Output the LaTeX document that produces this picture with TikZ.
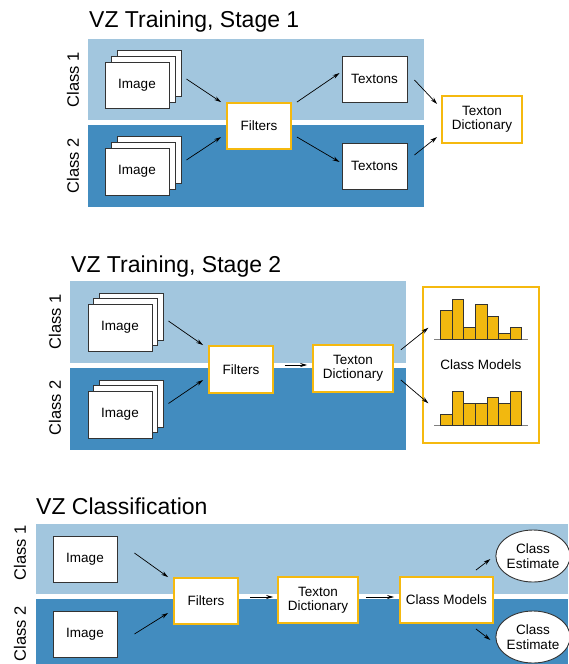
\documentclass[tikz,border=0pt]{standalone}
\usepackage{fontspec}
\setmainfont{Liberation Sans}
\usetikzlibrary{shapes.geometric,arrows.meta}
\definecolor{bandlight}{HTML}{A2C6DE}
\definecolor{banddark}{HTML}{428CBF}
\definecolor{gold}{HTML}{F5B90F}
\definecolor{barfill}{HTML}{F2B80F}
\definecolor{edge}{HTML}{333333}
\begin{document}
\begin{tikzpicture}[x=1pt,y=-1pt,
  boxfont/.style={font=\fontsize{13.5}{14.5}\selectfont},
  sheet/.style={draw=edge,fill=white,line width=0.9pt,inner sep=0pt,boxfont,align=center},
  proc/.style={draw=gold,fill=white,line width=1.8pt,inner sep=0pt,boxfont,align=center},
  est/.style={ellipse,draw=edge,fill=white,line width=0.9pt,inner sep=0pt,minimum width=70pt,minimum height=52pt,boxfont,align=center},
  title/.style={anchor=base west,inner sep=0pt,font=\fontsize{23}{26}\selectfont},
  classlabel/.style={rotate=90,inner sep=0pt,font=\fontsize{16.5}{18}\selectfont},
  arr/.style={-{Stealth[length=7pt,width=4pt]},line width=0.7pt},
  bar/.style={draw=edge,fill=barfill,line width=0.8pt},
  axisline/.style={draw=gray,line width=0.9pt}]
\useasboundingbox (0,0) rectangle (568,664);

% ---------------- Section 1 ----------------
\node[title] (t1) at (89,27.5) {VZ Training, Stage 1};
\fill[bandlight] (88,39) rectangle (424,120);
\fill[banddark] (88,125) rectangle (424,207);
\node[classlabel] (c11) at (73,80) {Class 1};
\node[classlabel] (c12) at (73,166) {Class 2};

\node[sheet,minimum width=64pt,minimum height=46pt] (s1c) at (149,73) {};
\node[sheet,minimum width=64pt,minimum height=46pt] (s1b) at (143,79) {};
\node[sheet,minimum width=64pt,minimum height=46pt] (s1a) at (137,85) {Image};
\node[sheet,minimum width=64pt,minimum height=47pt] (s2c) at (149,159.5) {};
\node[sheet,minimum width=64pt,minimum height=47pt] (s2b) at (143,165.5) {};
\node[sheet,minimum width=64pt,minimum height=47pt] (s2a) at (137,171.5) {Image};

\node[proc,minimum width=64pt,minimum height=46pt] (f1) at (259,126) {Filters};
\node[sheet,minimum width=65pt,minimum height=46pt] (x1) at (374.5,79) {Textons};
\node[sheet,minimum width=65pt,minimum height=46pt] (x2) at (374.5,166) {Textons};
\node[proc,minimum width=80pt,minimum height=47pt] (d1) at (482,119.5) {Texton\\Dictionary};

\draw[arr] ([shift={(5,6)}]s1c.east) -- ([shift={(-5,0)}]f1.north west);
\draw[arr] ([shift={(5,0.5)}]s2c.east) -- ([shift={(-5,11)}]f1.west);
\draw[arr] ([shift={(5,0)}]f1.north east) -- ([shift={(-2,-6)}]x1.west);
\draw[arr] ([shift={(5,11)}]f1.east) -- ([shift={(-2,-4)}]x2.west);
\draw[arr] ([shift={(7,1)}]x1.east) -- ([shift={(-4,-15.5)}]d1.west);
\draw[arr] ([shift={(7,-11)}]x2.east) -- ([shift={(-4,17.5)}]d1.west);

% ---------------- Section 2 ----------------
\node[title] (t2) at (71,272) {VZ Training, Stage 2};
\fill[bandlight] (70,281) rectangle (406,363);
\fill[banddark] (70,368) rectangle (406,450);
\node[classlabel] (c21) at (55,322) {Class 1};
\node[classlabel] (c22) at (55,408) {Class 2};

\node[sheet,minimum width=64pt,minimum height=47pt] (u1c) at (131,316.5) {};
\node[sheet,minimum width=64pt,minimum height=47pt] (u1b) at (125.5,322) {};
\node[sheet,minimum width=64pt,minimum height=47pt] (u1a) at (120,327.5) {Image};
\node[sheet,minimum width=64pt,minimum height=47pt] (u2c) at (131,403.5) {};
\node[sheet,minimum width=64pt,minimum height=47pt] (u2b) at (125.5,409) {};
\node[sheet,minimum width=64pt,minimum height=47pt] (u2a) at (120,414.5) {Image};

\node[proc,minimum width=64pt,minimum height=47pt] (f2) at (241,369.5) {Filters};
\node[proc,minimum width=80pt,minimum height=47pt] (d2) at (353,368.5) {Texton\\Dictionary};
\node[proc,minimum width=116pt,minimum height=156pt] (m2) at (481,365) {Class Models};

\draw[axisline] (434,339) -- (528,339);
\foreach \h [count=\i from 0] in {28.3,39.7,11.3,34.7,23,5.7,11.3}
  \draw[bar] ({440.7+\i*11.57},339) rectangle ++(11.57,-\h);
\draw[axisline] (434,425.7) -- (528,425.7);
\foreach \h [count=\i from 0] in {11.4,34,22.4,22.4,28.4,22.4,34}
  \draw[bar] ({440.7+\i*11.57},425.7) rectangle ++(11.57,-\h);

\draw[arr] ([shift={(5,4.5)}]u1c.east) -- ([shift={(-5,0)}]f2.north west);
\draw[arr] ([shift={(5,0)}]u2c.east) -- ([shift={(-5,10.5)}]f2.west);
\draw[arr] ([shift={(11,-4.5)}]f2.east) -- ([shift={(-5,-3.5)}]d2.west);
\draw[arr] ([shift={(7,5.7)}]d2.north east) -- ([shift={(6.3,-37.3)}]m2.west);
\draw[arr] ([shift={(7,11.5)}]d2.east) -- ([shift={(6.3,38.3)}]m2.west);

% ---------------- Section 3 ----------------
\node[title] (t3) at (36,514) {VZ Classification};
\fill[bandlight] (36,524) rectangle (568,594);
\fill[banddark] (36,599) rectangle (568,664);
\node[classlabel] (c31) at (20,553) {Class 1};
\node[classlabel] (c32) at (20,634) {Class 2};

\node[sheet,minimum width=64pt,minimum height=46pt] (i1) at (85,559) {Image};
\node[sheet,minimum width=64pt,minimum height=46pt] (i2) at (85,634) {Image};
\node[proc,minimum width=64pt,minimum height=46pt] (f3) at (206,601) {Filters};
\node[proc,minimum width=80pt,minimum height=46pt] (d3) at (318,600) {Texton\\Dictionary};
\node[proc,minimum width=93pt,minimum height=46pt] (m3) at (446.5,600) {Class Models};
\node[est] (e1) at (533,556) {Class\\Estimate};
\node[est] (e2) at (533,637) {Class\\Estimate};

\draw[arr] ([shift={(17,-6)}]i1.east) -- ([shift={(-5,0)}]f3.north west);
\draw[arr] ([shift={(17,0)}]i2.east) -- ([shift={(-5,12)}]f3.west);
\draw[arr] ([shift={(11,-4)}]f3.east) -- ([shift={(-4,-3)}]d3.west);
\draw[arr] ([shift={(7,-3)}]d3.east) -- ([shift={(-5,-3)}]m3.west);
\draw[arr] ([shift={(-18,-6)}]m3.north east) -- ([shift={(-5,3)}]e1.west);
\draw[arr] ([shift={(-18,5)}]m3.south east) -- ([shift={(-5,3)}]e2.west);
\end{tikzpicture}
\end{document}
